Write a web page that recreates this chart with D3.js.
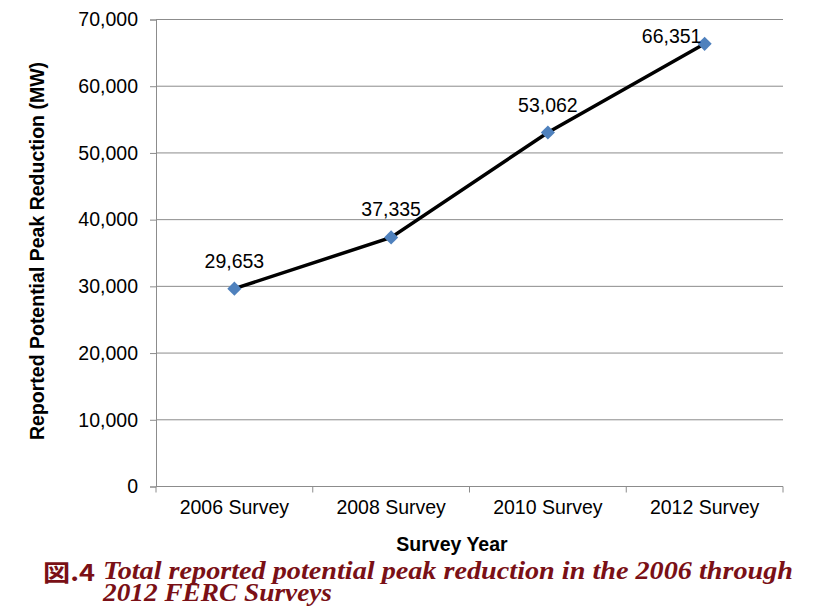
<!DOCTYPE html>
<html>
<head>
<meta charset="utf-8">
<script src="https://cdn.jsdelivr.net/npm/d3@7"></script>
<style>
  body { margin: 0; background: #fff; }
  svg { display: block; }
</style>
</head>
<body>
<div id="container"></div>
<script>
const surveys = ["2006 Survey", "2008 Survey", "2010 Survey", "2012 Survey"];
const peakMW = [29653, 37335, 53062, 66351];
const yTicks = [0, 10000, 20000, 30000, 40000, 50000, 60000, 70000];
const yTitle = "Reported Potential Peak Reduction (MW)";
const xTitle = "Survey Year";
const captionNo = "図.4";
const captionLines = ["Total reported potential peak reduction in the 2006 through", "2012 FERC Surveys"];

const w = 819, h = 614;
const plotLeft = 156, plotRight = 783, plotTop = 19.5, plotBottom = 486.5;
const sans = "Liberation Sans, Arial, sans-serif";

const svg = d3.select("#container").append("svg")
  .attr("width", w).attr("height", h);

const x = d3.scaleBand().domain(surveys).range([plotLeft, plotRight]);
const y = d3.scaleLinear().domain([0, 70000]).range([plotBottom, plotTop]);
const fmt = d3.format(",");

// gridlines
svg.append("g").selectAll("line")
  .data(yTicks.slice(1))
  .enter().append("line")
  .attr("x1", plotLeft).attr("x2", plotRight)
  .attr("y1", d => y(d)).attr("y2", d => y(d))
  .attr("stroke", "#8c8c8c").attr("stroke-width", 1);

// y axis
const yAxis = svg.append("g")
  .attr("transform", `translate(${plotLeft},0)`)
  .call(d3.axisLeft(y).tickValues(yTicks).tickFormat(fmt).tickSize(6).tickPadding(12));
yAxis.select(".domain").attr("stroke", "#8c8c8c");
yAxis.selectAll(".tick line").attr("stroke", "#8c8c8c");
yAxis.selectAll("text").attr("font-family", sans)
  .attr("font-size", 19.5).attr("fill", "#000");

// x axis
const xAxis = svg.append("g")
  .attr("transform", `translate(0,${plotBottom})`)
  .call(d3.axisBottom(x).tickSize(0).tickPadding(14));
xAxis.select(".domain").attr("stroke", "#8c8c8c").attr("d", `M${plotLeft},0H${plotRight}`);
xAxis.selectAll("text").attr("font-family", sans)
  .attr("font-size", 19.5).attr("fill", "#000");
// category separators
svg.append("g").selectAll("line")
  .data(surveys.concat(["end"]))
  .enter().append("line")
  .attr("x1", (d, i) => plotLeft + i * x.step()).attr("x2", (d, i) => plotLeft + i * x.step())
  .attr("y1", plotBottom).attr("y2", plotBottom + 6)
  .attr("stroke", "#8c8c8c");

// line
const cx = (d, i) => x(surveys[i]) + x.bandwidth() / 2;
svg.append("path")
  .datum(peakMW)
  .attr("d", d3.line().x(cx).y(d => y(d)))
  .attr("fill", "none").attr("stroke", "#000").attr("stroke-width", 3.5);

// markers
svg.append("g").selectAll("path")
  .data(peakMW)
  .enter().append("path")
  .attr("d", d3.symbol().type(d3.symbolSquare).size(100))
  .attr("transform", (d, i) => `translate(${cx(d, i)},${y(d)}) rotate(45)`)
  .attr("fill", "#4f81bd");

// value labels (the top one is pushed down/left by the plot edge)
svg.append("g").selectAll("text")
  .data(peakMW)
  .enter().append("text")
  .attr("x", (d, i) => {
    const px = cx(d, i);
    return y(d) - 21 < plotTop + 10 ? px - 33 : px;
  })
  .attr("y", d => Math.max(y(d) - 21, plotTop + 23))
  .attr("text-anchor", "middle")
  .attr("font-family", sans)
  .attr("font-size", 19.5).attr("fill", "#000")
  .text(d => fmt(d));

// axis titles
svg.append("text")
  .attr("transform", `translate(44,251) rotate(-90)`)
  .attr("text-anchor", "middle")
  .attr("font-family", sans)
  .attr("font-size", 19.5).attr("font-weight", "bold")
  .text(yTitle);

svg.append("text")
  .attr("x", 452).attr("y", 551)
  .attr("text-anchor", "middle")
  .attr("font-family", sans)
  .attr("font-size", 19.5).attr("font-weight", "bold")
  .text(xTitle);

// caption
const cap = svg.append("g").attr("fill", "#7a1016");
cap.append("text")
  .attr("x", 43).attr("y", 581)
  .attr("font-family", "Noto Sans CJK JP, sans-serif")
  .attr("font-size", 23).attr("font-weight", "bold")
  .attr("textLength", 52).attr("lengthAdjust", "spacingAndGlyphs")
  .text(captionNo);
cap.selectAll("text.line")
  .data(captionLines)
  .enter().append("text")
  .attr("class", "line")
  .attr("x", 103).attr("y", (d, i) => 579 + i * 22)
  .attr("font-family", "Liberation Serif, Times New Roman, serif")
  .attr("font-size", 26).attr("font-weight", "bold").attr("font-style", "italic")
  .attr("textLength", (d, i) => i === 0 ? 690 : 229)
  .attr("lengthAdjust", "spacingAndGlyphs")
  .text(d => d);
</script>
</body>
</html>
